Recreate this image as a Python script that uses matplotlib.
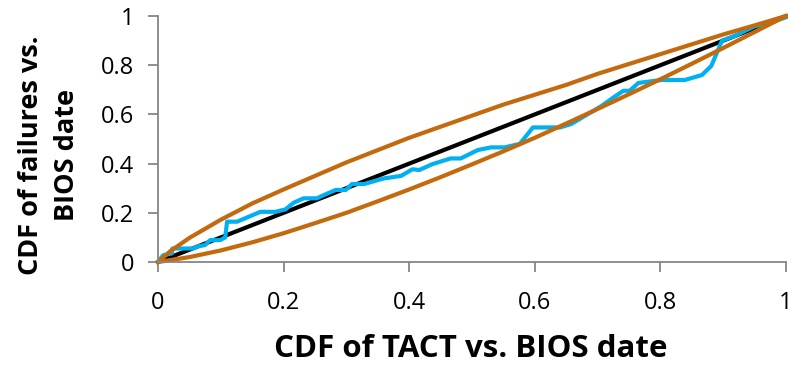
import numpy as np
import matplotlib.pyplot as plt

plt.rcParams["font.family"] = ["Open Sans", "DejaVu Sans"]

obs_x = [0.0, 0.008, 0.022, 0.023, 0.056, 0.064, 0.075, 0.083, 0.099, 0.107,
         0.110, 0.126, 0.163, 0.187, 0.203, 0.216, 0.232, 0.253, 0.264, 0.283,
         0.299, 0.309, 0.328, 0.360, 0.387, 0.405, 0.416, 0.437, 0.466, 0.482,
         0.509, 0.530, 0.552, 0.576, 0.597, 0.640, 0.658, 0.706, 0.727, 0.741,
         0.751, 0.765, 0.802, 0.839, 0.866, 0.881, 0.898, 0.919, 0.935, 0.951,
         0.972, 1.0]
obs_y = [0.0, 0.027, 0.035, 0.055, 0.055, 0.064, 0.069, 0.089, 0.089, 0.100,
         0.164, 0.164, 0.204, 0.204, 0.214, 0.241, 0.259, 0.259, 0.272, 0.293,
         0.293, 0.317, 0.317, 0.340, 0.350, 0.377, 0.374, 0.398, 0.421, 0.421,
         0.455, 0.466, 0.466, 0.480, 0.547, 0.547, 0.561, 0.634, 0.672, 0.696,
         0.696, 0.728, 0.740, 0.740, 0.760, 0.797, 0.900, 0.919, 0.940, 0.959,
         0.970, 0.995]

# Bounds (orange)
upper_x = [0.0, 0.02, 0.05, 0.10, 0.15, 0.20, 0.25, 0.30, 0.35, 0.40, 0.45,
           0.50, 0.55, 0.60, 0.65, 0.70, 0.75, 0.80, 0.85, 0.90, 0.95, 1.0]
upper_y = [0.0, 0.045, 0.098, 0.172, 0.238, 0.295, 0.35, 0.405, 0.455, 0.505,
           0.55, 0.595, 0.64, 0.68, 0.72, 0.765, 0.805, 0.845, 0.885, 0.925,
           0.962, 1.0]
lower_x = [0.0, 0.05, 0.10, 0.15, 0.20, 0.25, 0.30, 0.35, 0.40, 0.45, 0.50,
           0.55, 0.60, 0.65, 0.70, 0.75, 0.80, 0.85, 0.90, 0.95, 1.0]
lower_y = [0.0, 0.02, 0.047, 0.08, 0.117, 0.158, 0.20, 0.247, 0.295, 0.345,
           0.397, 0.45, 0.505, 0.563, 0.622, 0.682, 0.743, 0.806, 0.87, 0.935,
           1.0]

diag = [0.0, 1.0]

orange = "#C46A0E"
blue = "#00B0F0"
grey = "#868686"

fig = plt.figure(figsize=(7.88, 3.68), dpi=100)
ax = fig.add_axes([0.2005, 0.288, 0.797, 0.6685])

ax.plot(diag, diag, color="black", linewidth=3, solid_capstyle="butt")
ax.plot(obs_x, obs_y, color=blue, linewidth=3)
ax.plot(upper_x, upper_y, color=orange, linewidth=3)
ax.plot(lower_x, lower_y, color=orange, linewidth=3)

ax.set_xlim(0, 1)
ax.set_ylim(0, 1)
ticks = [0, 0.2, 0.4, 0.6, 0.8, 1]
tick_labels = ["0", "0.2", "0.4", "0.6", "0.8", "1"]
ax.set_xticks(ticks)
ax.set_xticklabels(tick_labels)
ax.set_yticks(ticks)
ax.set_yticklabels(tick_labels)

for side in ["top", "right"]:
    ax.spines[side].set_visible(False)
for side in ["left", "bottom"]:
    ax.spines[side].set_color(grey)
    ax.spines[side].set_linewidth(1.3)
ax.tick_params(direction="out", length=7, width=1.3, color=grey,
               labelsize=17, labelcolor="black")
ax.tick_params(axis="x", pad=14)
ax.tick_params(axis="y", pad=10)
for line in ax.get_lines():
    line.set_clip_on(False)

fig.text(0.598, 0.052, "CDF of TACT vs. BIOS date", ha="center", va="center",
         fontsize=22.5, fontweight="bold")
fig.text(0.062, 0.579, "CDF of failures vs.\nBIOS date", ha="center",
         va="center", rotation=90, fontsize=19.5, fontweight="bold",
         linespacing=1.5)

fig.savefig("out.png", dpi=100)
